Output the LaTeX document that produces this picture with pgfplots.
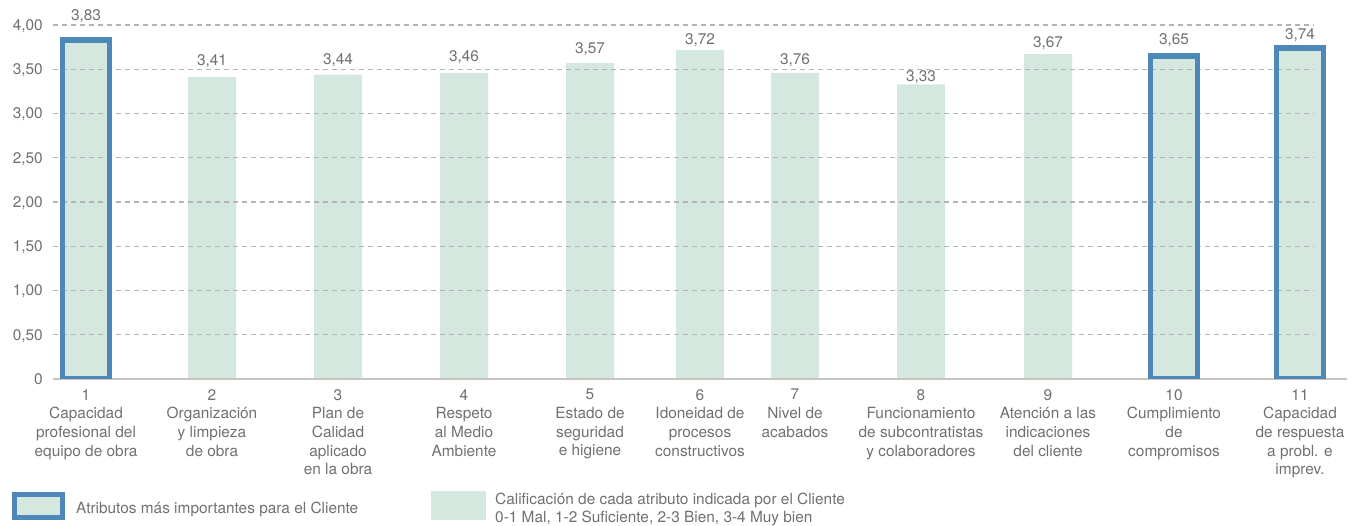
\documentclass[border=0pt]{standalone}
\usepackage{fontspec}
\setmainfont{TeX Gyre Heros}
\usepackage{pgfplots}
\usepackage{pgfplotstable}
\pgfplotsset{compat=1.18}

\definecolor{barg}{RGB}{213,232,224}
\definecolor{bblue}{RGB}{78,136,185}
\definecolor{txt}{RGB}{112,112,112}
\definecolor{gridc}{RGB}{180,180,180}
\definecolor{basec}{RGB}{200,196,192}
\newcommand{\chartfont}{\fontsize{15.4}{18.7}\selectfont}

% x = position of the bar, y = bar height, ly = height of the value label, lab = label text
\pgfplotstableread{
x y ly lab
1 3.83 4.056 3,83
2 3.41 3.537 3,41
3 3.44 3.559 3,44
4 3.46 3.585 3,46
5 3.57 3.680 3,57
5.873 3.72 3.774 3,72
6.627 3.46 3.559 3,76
7.627 3.33 3.367 3,33
8.635 3.67 3.748 3,67
9.635 3.65 3.785 3,65
10.635 3.74 3.831 3,74
}\datatable

\pgfplotstableread{
x y
1 3.83
9.635 3.65
10.635 3.74
}\keytable

\begin{document}
\begin{tikzpicture}
\path[use as bounding box] (0,0) rectangle (1359pt,526pt);
\begin{axis}[
  at={(53pt,147pt)}, anchor=south west,
  scale only axis, width=1294pt, height=354pt,
  xmin=0.738, xmax=11.008, ymin=0, ymax=4,
  clip=false,
  axis line style={draw=none},
  major tick length=0pt,
  ytick={0,0.5,1,1.5,2,2.5,3,3.5,4},
  yticklabels={0,{0,50},{1,00},{1,50},{2,00},{2,50},{3,00},{3,50},{4,00}},
  xtick={1,2,3,4,5,5.873,6.627,7.627,8.635,9.635,10.635},
  xticklabels={
    {1\\Capacidad\\profesional del\\equipo de obra},
    {2\\Organización\\y limpieza\\de obra},
    {3\\Plan de\\Calidad\\aplicado\\en la obra},
    {4\\Respeto\\al Medio\\Ambiente},
    {5\\Estado de\\seguridad\\e higiene},
    {6\\Idoneidad de\\procesos\\constructivos},
    {7\\Nivel de\\acabados},
    {8\\Funcionamiento\\de subcontratistas\\y colaboradores},
    {9\\Atención a las\\indicaciones\\del cliente},
    {10\\Cumplimiento\\de\\compromisos},
    {11\\Capacidad\\de respuesta\\a probl. e\\imprev.}},
  yticklabel style={anchor=base east, inner sep=0pt, xshift=-10pt, yshift=-5.4pt, font=\chartfont, text=txt},
  xticklabel style={anchor=north, inner sep=0pt, yshift=-10pt, align=center, font=\chartfont, text=txt},
]
\addplot[ybar, bar width=48pt, bar shift=0pt, fill=barg, draw=none] table[x=x, y=y]{\datatable};
\pgfplotsinvokeforeach{0.5,1,1.5,2,2.5,3,3.5,4}{
  \draw[gridc, line width=1.2pt, dash pattern=on 5pt off 4pt] (axis cs:0.738,#1) -- (axis cs:10.746,#1);
}
\draw[basec, line width=1.2pt] (axis cs:0.738,0) -- (axis cs:11.008,0);
\addplot[draw=none, mark=none, nodes near coords, point meta=explicit symbolic,
  nodes near coords style={anchor=base, inner sep=0pt, font=\chartfont, text=txt}]
  table[x=x, y=ly, meta=lab]{\datatable};
\end{axis}
\begin{axis}[
  at={(53pt,147pt)}, anchor=south west,
  scale only axis, width=1294pt, height=354pt,
  xmin=0.738, xmax=11.008, ymin=0.04, ymax=4.04,
  hide axis,
]
\addplot[ybar, bar width=47pt, bar shift=0pt, draw=bblue, fill=none, line width=5.5pt]
  table[x=x, y expr=\thisrow{y}+0.04]{\keytable};
\end{axis}
\draw[bblue, fill=barg, line width=5.5pt] (14.5pt,8.5pt) rectangle (62.5pt,31.5pt);
\node[anchor=base west, inner sep=0pt, font=\chartfont, text=txt] at (76pt,12pt) {Atributos más importantes para el Cliente};
\fill[barg] (431pt,6pt) rectangle (486pt,35pt);
\node[anchor=base west, inner sep=0pt, font=\chartfont, text=txt] at (495pt,21.5pt) {Calificación de cada atributo indicada por el Cliente};
\node[anchor=base west, inner sep=0pt, font=\chartfont, text=txt] at (495pt,3.5pt) {0-1 Mal, 1-2 Suficiente, 2-3 Bien, 3-4 Muy bien};
\end{tikzpicture}
\end{document}
